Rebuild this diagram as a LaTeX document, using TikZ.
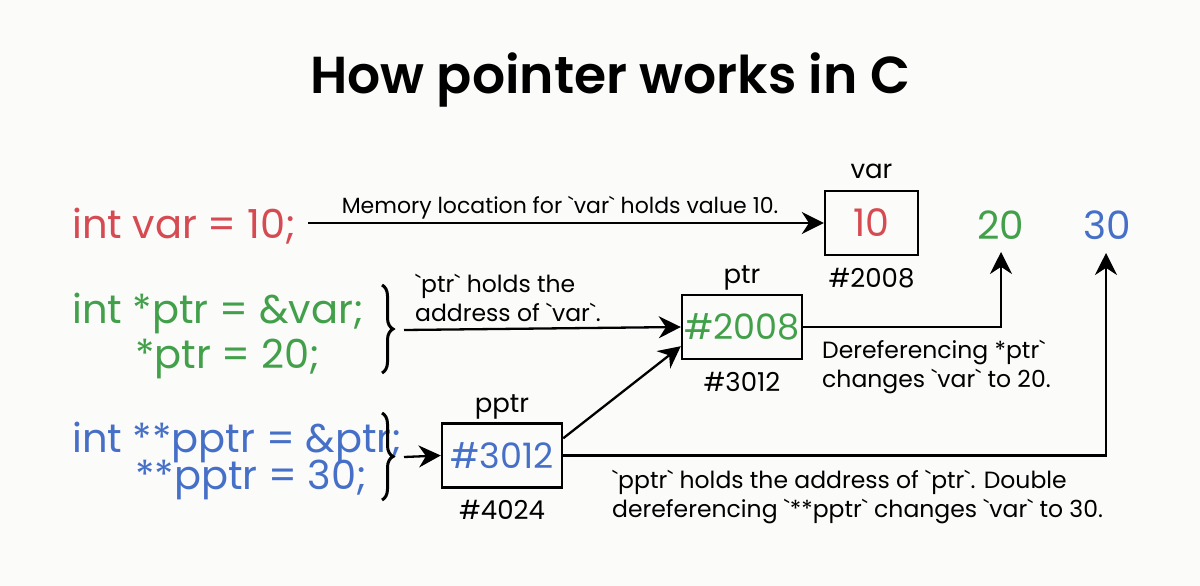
\documentclass[tikz,border=0pt]{standalone}
\usepackage{fontspec}
\setmainfont{Poppins}[Ligatures=TeXOff]
\newfontfamily\titlefont{Poppins SemiBold}[Ligatures=TeXOff]
\usetikzlibrary{arrows.meta,decorations.pathreplacing}
\definecolor{cred}{RGB}{214,74,82}
\definecolor{cgreen}{RGB}{66,160,74}
\definecolor{cblue}{RGB}{70,112,200}
\definecolor{bgcol}{RGB}{251,251,250}
\newcommand\bt{`}
\tikzset{
  code/.style={font=\fontsize{40}{44}\selectfont, inner sep=0pt, anchor=base west},
  memcell/.style={draw=black, line width=2.4pt, minimum width=#1, minimum height=64pt, inner sep=0pt, font=\fontsize{35}{40}\selectfont},
  lbl/.style={font=\fontsize{26}{28}\selectfont, inner sep=0pt, anchor=base},
  note/.style={font=\fontsize{23.5}{28.5}\selectfont, inner sep=0pt, align=left},
  valtext/.style={font=\fontsize{39}{40}\selectfont, inner sep=0pt},
  conn/.style={line width=2.3pt, draw=black},
  arr/.style={conn, -{Stealth[length=22pt,width=22pt]}},
  bracedec/.style={line width=3pt, decorate, decoration={brace, amplitude=11pt, aspect=0.5}}
}
\begin{document}
\begin{tikzpicture}[x=1pt,y=-1pt]
\fill[bgcol] (0,0) rectangle (1200,586);
\useasboundingbox (0,0) rectangle (1200,586);

\node[font=\titlefont\fontsize{52}{56}\selectfont, inner sep=0pt, anchor=base] (title) at (610,93) {How pointer works in C};

% code lines
\node[code, text=cred] (c1) at (72,238) {int var = 10;};
\node[code, text=cgreen] (c2a) at (72,323) {int *ptr = \&var;};
\node[code, text=cgreen] (c2b) at (135,368) {*ptr = 20;};
\node[code, text=cblue] (c3a) at (72,452) {int **pptr = \&ptr;};
\node[code, text=cblue] (c3b) at (135,489) {**pptr = 30;};

% braces
\draw[bracedec] (382,285) -- (382,373);
\coordinate (b1) at (404,330);
\draw[bracedec] (382,413) -- (382,500);
\coordinate (b2) at (404,457);

% memory cells
\node[memcell=93pt, text=cred, font=\fontsize{38}{40}\selectfont] (var) at (871.5,223) {10};
\node[lbl] (varname) at ([yshift=11pt]var.north) {var};
\node[lbl] (varaddr) at ([yshift=-31pt]var.south) {\#2008};

\node[memcell=120pt, text=cgreen] (ptr) at (742,327) {\#2008};
\node[lbl] (ptrname) at ([yshift=10pt]ptr.north) {ptr};
\node[lbl] (ptraddr) at ([yshift=-31pt]ptr.south) {\#3012};

\node[memcell=120pt, text=cblue] (pptr) at (502,455.5) {\#3012};
\node[lbl] (pptrname) at ([yshift=10pt]pptr.north) {pptr};
\node[lbl] (pptraddr) at ([yshift=-31pt]pptr.south) {\#4024};

% values
\node[valtext, text=cgreen] (v20) at (1000.5,225) {20};
\node[valtext, text=cblue] (v30) at (1107.5,225) {30};
\coordinate (t20) at (1001,252);
\coordinate (t30) at (1106,253);

% connectors
\coordinate (a1) at (308,223);
\draw[arr] (a1) -- (var.west);
\node[note, font=\fontsize{22}{28}\selectfont, anchor=base] (n1) at (560,213) {Memory location for \bt var\bt\ holds value 10.};

\draw[arr] (b1) -- (ptr.west);
\node[note, anchor=base west] (n2) at (415,321) {\bt ptr\bt\ holds the\\address of \bt var\bt.};

\draw[arr] (b2) -- (pptr.west);

\draw[arr] ([yshift=-16pt]pptr.north east) -- ([yshift=14pt]ptr.south west);

\draw[arr] (ptr.east) -| (t20);
\node[note, anchor=base west] (n3) at (822,387) {Dereferencing *ptr\bt\\changes \bt var\bt\ to 20.};

\draw[arr] (pptr.east) -| (t30);
\node[note, anchor=base west] (n4) at (612,517) {\bt pptr\bt\ holds the address of \bt ptr\bt. Double\\dereferencing \bt**pptr\bt\ changes \bt var\bt\ to 30.};
\end{tikzpicture}
\end{document}
